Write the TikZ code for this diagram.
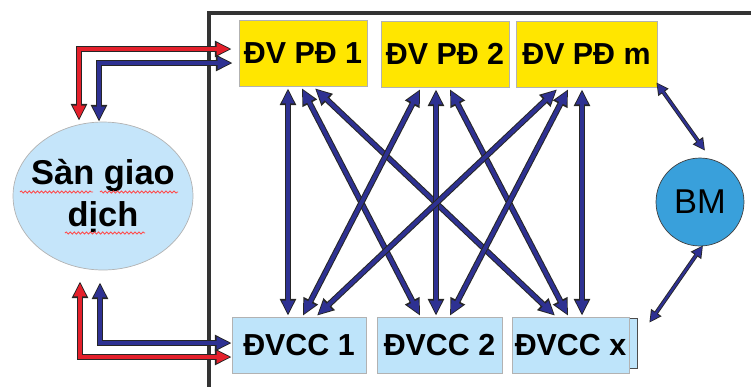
\documentclass[tikz,border=0pt]{standalone}
\usepackage{fontspec}
\setmainfont{Liberation Sans}
\usetikzlibrary{arrows.meta,calc,shapes.geometric,decorations.pathmorphing}

\definecolor{pdyellow}{RGB}{255,230,0}
\definecolor{ccblue}{RGB}{190,228,250}
\definecolor{sanblue}{RGB}{197,229,250}
\definecolor{bmblue}{RGB}{57,160,219}
\definecolor{flownavy}{RGB}{46,49,146}
\definecolor{flowred}{RGB}{228,32,43}

\tikzset{
  pdbox/.style={draw=gray!60, fill=pdyellow, minimum height=1.32cm, inner sep=0pt,
    font=\bfseries\fontsize{17.3}{20}\selectfont},
  ccbox/.style={draw=gray!60, fill=ccblue, minimum height=1.12cm, inner sep=0pt,
    font=\bfseries\fontsize{17.3}{20}\selectfont},
  flow/.style={draw=#1, line width=2.2pt, line join=miter,
    {Triangle[length=7.6pt,width=6.6pt]}-{Triangle[length=7.6pt,width=6.6pt]},
    shorten <=1pt, shorten >=1pt,
    preaction={draw=black!85, line width=3.4pt,
      {Triangle[length=9.6pt,width=8.8pt]}-{Triangle[length=9.6pt,width=8.8pt]},
      shorten <=0pt, shorten >=0pt}},
  thinflow/.style={draw=flownavy, line width=1.3pt,
    {Triangle[length=5.6pt,width=5pt]}-{Triangle[length=5.6pt,width=5pt]},
    shorten <=0.8pt, shorten >=0.8pt,
    preaction={draw=black!85, line width=2.3pt,
      {Triangle[length=7pt,width=6.8pt]}-{Triangle[length=7pt,width=6.8pt]},
      shorten <=0pt, shorten >=0pt}},
  squig/.style={draw=red!70!white, line width=0.5pt, decorate,
    decoration={snake, segment length=2.3pt, amplitude=0.6pt}}
}

\begin{document}
\begin{tikzpicture}[x=0.02cm, y=-0.02cm]
\useasboundingbox (0,0) rectangle (751,387);

% frame of the market
\draw[line width=2.3pt, black!80] (751,13) -- (209,13) -- (209,387);

% dealing units
\node[pdbox, minimum width=2.56cm] (pd1) at (303,53) {ĐV PĐ 1};
\node[pdbox, minimum width=2.56cm] (pd2) at (445,54) {ĐV PĐ 2};
\node[pdbox, minimum width=2.82cm] (pdm) at (586.5,54) {ĐV PĐ m};

% supplying units
\node[draw=black!70, fill=ccblue, minimum width=2.5cm, minimum height=1cm, inner sep=0pt] (ccxback) at (574.5,343) {};
\node[ccbox, minimum width=2.68cm] (cc1) at (299,345) {ĐVCC 1};
\node[ccbox, minimum width=2.5cm] (cc2) at (439.5,345) {ĐVCC 2};
\node[ccbox, minimum width=2.34cm] (ccx) at (570.5,345) {ĐVCC x};

% exchange and BM
\node[ellipse, draw=gray!60, fill=sanblue, minimum width=3.6cm, minimum height=2.96cm, inner sep=0pt,
  label={[align=center, font=\bfseries\fontsize{19.6}{24.4}\selectfont]center:Sàn giao\\dịch}] (san) at (103,196) {};
\node[circle, draw=black!75, fill=bmblue, minimum size=1.76cm, inner sep=0pt,
  font=\fontsize{19.6}{22}\selectfont] (bm) at (700,202) {BM};

% spelling marks under the exchange name
\draw[squig] ($(san.center)+(-83,-4)$) -- ++(73,0);
\draw[squig] ($(san.center)+(-3,-4)$) -- ++(78,0);
\draw[squig] ($(san.center)+(-38,37)$) -- ++(80,0);

% exchange links
\draw[flow=flowred] ($(pd1.west)+(-7,-4)$) -| ($(san.north)+(-24,-1)$);
\draw[flow=flownavy] ($(pd1.west)+(-6,10)$) -| ($(san.north)+(-4,0)$);
\draw[flow=flowred] ($(cc1.west)+(0,12)$) -| ($(san.south)+(-23,11)$);
\draw[flow=flownavy] ($(cc1.west)+(0,-2)$) -| ($(san.south)+(-3,12)$);

% dealing units <-> supplying units
\draw[flow=flownavy] ($(pd1.south)+(-15,2)$) -- ($(cc1.north)+(-11,-1)$);
\draw[flow=flownavy] ($(pd1.south)+(-1,2)$) -- ($(cc2.north)+(-19.5,-1)$);
\draw[flow=flownavy] ($(pd1.south)+(12,2)$) -- ($(ccx.north)+(-15.5,-1)$);
\draw[flow=flownavy] ($(pd2.south)+(-25,2)$) -- ($(cc1.north)+(4,-1)$);
\draw[flow=flownavy] ($(pd2.south)+(-9,2)$) -- ($(cc2.north)+(-3.5,-1)$);
\draw[flow=flownavy] ($(pd2.south)+(5,2)$) -- ($(ccx.north)+(-2.5,-1)$);
\draw[flow=flownavy] ($(pdm.south)+(-29.5,2)$) -- ($(cc1.north)+(18,-1)$);
\draw[flow=flownavy] ($(pdm.south)+(-18.5,2)$) -- ($(cc2.north)+(10.5,-1)$);
\draw[flow=flownavy] ($(pdm.south)+(-4.5,2)$) -- ($(ccx.north)+(11.5,-1)$);

% BM links
\draw[thinflow] ($(pdm.south east)+(-1,-5)$) -- ($(bm.north)+(5,-7)$);
\draw[thinflow] ($(bm.south)+(3,-1)$) -- ($(ccxback.north east)+(12,5)$);
\end{tikzpicture}
\end{document}
